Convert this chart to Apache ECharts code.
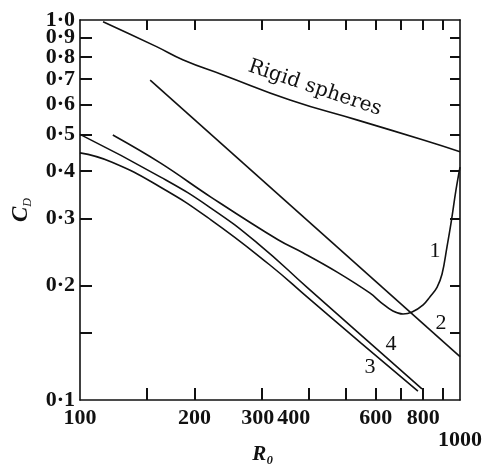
<!DOCTYPE html>
<html>
<head>
<meta charset="utf-8">
<script src="https://cdn.jsdelivr.net/npm/echarts@6/dist/echarts.min.js"></script>
<style>
html, body { margin: 0; padding: 0; background: #fff; }
#chart { width: 487px; height: 466px; }
</style>
</head>
<body>
<div id="chart"></div>
<script>
// tick marks and labelled values on both log axes
var xTicks = [150, 200, 300, 400, 500, 600, 700, 800, 900]
var xLabels = [100, 200, 300, 400, 600, 800, 1000]
var yTicks = [0.15, 0.2, 0.3, 0.4, 0.5, 0.6, 0.7, 0.8, 0.9]
var yLabels = [0.1, 0.2, 0.3, 0.4, 0.5, 0.6, 0.7, 0.8, 0.9, 1.0]

// [R0, CD]
var rigidSpheres = [[115, 0.99], [159, 0.851], [187, 0.785], [238, 0.717], [357, 0.616], [535, 0.546], [801, 0.483], [1000, 0.45]]
var curve1 = [[122, 0.498], [163, 0.42], [221, 0.342], [332, 0.264], [386, 0.244], [475, 0.217], [580, 0.191],
  [620, 0.1805], [666, 0.1715], [708, 0.1684], [748, 0.1704], [800, 0.178], [834, 0.187], [870, 0.198],
  [897, 0.2145], [924, 0.2526], [947, 0.292], [976, 0.357], [1000, 0.41]]
var curve2 = [[153, 0.695], [1000, 0.13]]
var curve3 = [[100, 0.447], [121, 0.423], [163, 0.363], [221, 0.298], [316, 0.2266], [400, 0.185], [550, 0.141], [775, 0.1055]]
var curve4 = [[100, 0.5], [163, 0.386], [221, 0.32], [294, 0.258], [400, 0.196], [550, 0.148], [794, 0.107]]

// text placed on the plot: [text, R0, CD]
var curveNames = [['1', 859, 0.247], ['2', 891, 0.159], ['3', 580, 0.122], ['4', 658, 0.140]]
var curveTitle = ['Rigid spheres', 415, 0.662]

var FONT = 'DejaVu Serif'
var NUM_FONT = 'Liberation Serif'

let axisLine = { show: true, lineStyle: { color: '#111', width: 1.6 } }
let tick = (len, values) => {
  return { show: true, inside: true, length: len, customValues: values, lineStyle: { color: '#111', width: 2 } }
}

let line = (name, data, smooth) => {
  return {
    name: name,
    type: 'line',
    data: data,
    symbol: 'none',
    smooth: smooth,
    silent: true,
    lineStyle: { color: '#111', width: 1.6 }
  }
}

// shift some bottom labels left a bit, as printed
let numStyle = pad => {
  return { fontFamily: NUM_FONT, fontWeight: 'bold', fontSize: 22, color: '#111', padding: [0, pad, 0, 0] }
}

let xLabel = values => {
  return {
    customValues: values,
    showMinLabel: true,
    showMaxLabel: true,
    hideOverlap: false,
    margin: 7,
    color: '#111',
    fontFamily: NUM_FONT,
    fontWeight: 'bold',
    fontSize: 22,
    lineHeight: 22,
    formatter: v => {
      v = Math.round(v)
      if (v === 1000) return '\n1000'
      if (v === 400) return '{f|400}'
      if (v === 300) return '{t|300}'
      return String(v)
    },
    rich: { f: numStyle(30), t: numStyle(7) }
  }
}
let yLabel = values => {
  return {
    customValues: values,
    showMinLabel: true,
    showMaxLabel: true,
    hideOverlap: false,
    margin: 5,
    color: '#111',
    fontFamily: NUM_FONT,
    fontWeight: 'bold',
    fontSize: 22,
    lineHeight: 15,
    formatter: v => v.toFixed(1).replace('.', '·')
  }
}

// labels are crowded at the top / right end, so every other label goes on a
// second, bare axis and echarts does not drop any of them as overlapping
let even = arr => arr.filter((v, i) => i % 2 === 0)
let odd = arr => arr.filter((v, i) => i % 2 === 1)
let bare = { axisLine: { show: false }, splitLine: { show: false }, axisTick: { show: false } }

const chart = echarts.init(document.getElementById('chart'))
chart.setOption({
  backgroundColor: '#fff',
  animation: false,
  grid: { left: 80, top: 20, right: 27, bottom: 66, containLabel: false },
  xAxis: [
    {
      type: 'log', min: 100, max: 1000, position: 'bottom',
      axisLine: axisLine,
      splitLine: { show: false },
      axisTick: tick(12, xTicks),
      axisLabel: xLabel(even(xLabels))
    },
    {
      type: 'log', min: 100, max: 1000, position: 'top',
      axisLine: axisLine,
      splitLine: { show: false },
      axisTick: tick(10, xTicks),
      axisLabel: { show: false }
    },
    Object.assign({ type: 'log', min: 100, max: 1000, position: 'bottom', axisLabel: xLabel(odd(xLabels)) }, bare)
  ],
  yAxis: [
    {
      type: 'log', min: 0.1, max: 1, position: 'left',
      axisLine: axisLine,
      splitLine: { show: false },
      axisTick: tick(12, yTicks),
      axisLabel: yLabel(even(yLabels))
    },
    {
      type: 'log', min: 0.1, max: 1, position: 'right',
      axisLine: axisLine,
      splitLine: { show: false },
      axisTick: tick(10, yTicks),
      axisLabel: { show: false }
    },
    Object.assign({ type: 'log', min: 0.1, max: 1, position: 'left', axisLabel: yLabel(odd(yLabels)) }, bare)
  ],
  series: [
    line('Rigid spheres', rigidSpheres, 0.5),
    line('1', curve1, 0.4),
    line('2', curve2, false),
    line('3', curve3, 0.5),
    line('4', curve4, 0.5)
  ]
})

// annotations follow the axes
let toPx = (r, c) => chart.convertToPixel({ xAxisIndex: 0, yAxisIndex: 0 }, [r, c])
let graphics = curveNames.map(item => {
  const p = toPx(item[1], item[2])
  return {
    type: 'text',
    x: p[0],
    y: p[1],
    style: { text: item[0], font: '22px "Liberation Serif"', fill: '#111', align: 'center', verticalAlign: 'middle' }
  }
})
let tp = toPx(curveTitle[1], curveTitle[2])
graphics.push({
  type: 'text',
  x: tp[0],
  y: tp[1],
  rotation: -18.5 * Math.PI / 180,
  style: { text: curveTitle[0], font: '20px "DejaVu Serif"', fill: '#111', align: 'center', verticalAlign: 'middle' }
})
// axis titles
graphics.push({
  type: 'text',
  x: 263,
  y: 455,
  style: { text: 'R₀', font: 'italic bold 21px "Liberation Serif"', fill: '#111', align: 'center', verticalAlign: 'middle' }
})
graphics.push({
  type: 'text',
  x: 21,
  y: 210,
  rotation: Math.PI / 2,
  style: {
    text: '{c|C}{d|D}',
    align: 'center',
    verticalAlign: 'middle',
    rich: {
      c: { fontFamily: NUM_FONT, fontStyle: 'italic', fontWeight: 'bold', fontSize: 23, lineHeight: 26, fill: '#111' },
      d: { fontFamily: NUM_FONT, fontStyle: 'italic', fontSize: 12, lineHeight: 26, verticalAlign: 'bottom', fill: '#111' }
    }
  }
})
chart.setOption({ graphic: graphics })
</script>
</body>
</html>
